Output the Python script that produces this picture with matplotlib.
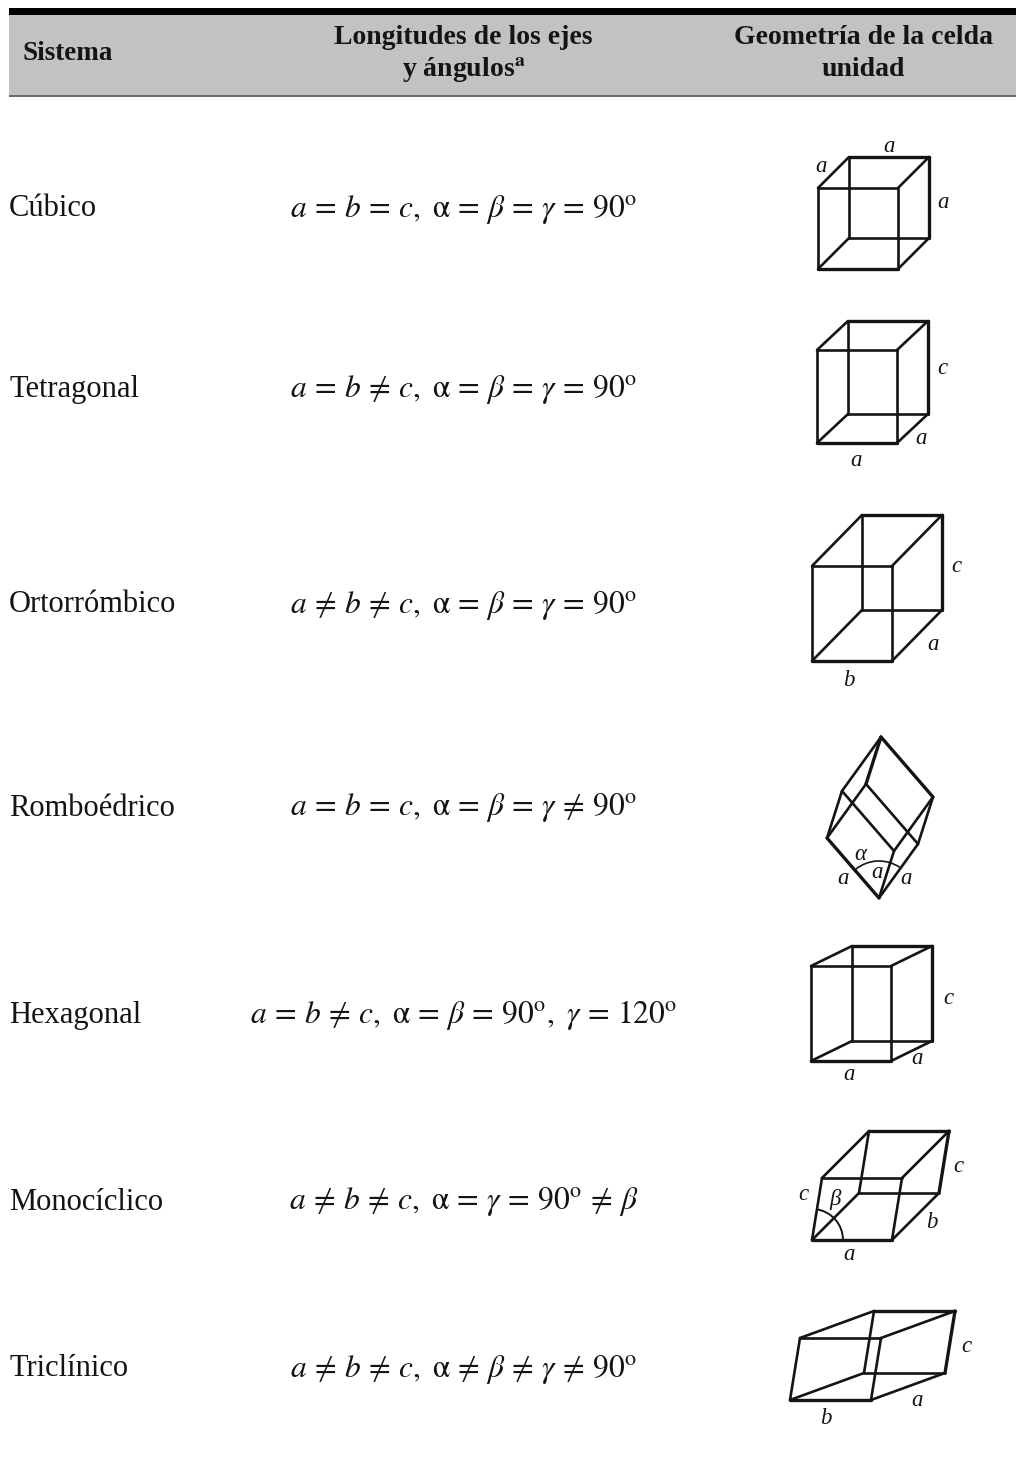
import numpy as np
import matplotlib
matplotlib.use('Agg')
import matplotlib.pyplot as plt
from matplotlib.patches import Arc

plt.rcParams['font.family'] = ['Liberation Serif', 'DejaVu Serif']
plt.rcParams['mathtext.fontset'] = 'stix'

# table content
sistemas = ['Cúbico', 'Tetragonal', 'Ortorrómbico', 'Romboédrico', 'Hexagonal', 'Monocíclico', 'Triclínico']
row_y = [207, 388, 603, 806, 1013, 1200, 1367]
formulas = [
    r'$a\,=\,b\,=\,c,\ \mathrm{\alpha}\,=\,\beta\,=\,\gamma\,=\,90^{\mathrm{o}}$',
    r'$a\,=\,b\,\neq\,c,\ \mathrm{\alpha}\,=\,\beta\,=\,\gamma\,=\,90^{\mathrm{o}}$',
    r'$a\,\neq\,b\,\neq\,c,\ \mathrm{\alpha}\,=\,\beta\,=\,\gamma\,=\,90^{\mathrm{o}}$',
    r'$a\,=\,b\,=\,c,\ \mathrm{\alpha}\,=\,\beta\,=\,\gamma\,\neq\,90^{\mathrm{o}}$',
    r'$a\,=\,b\,\neq\,c,\ \mathrm{\alpha}\,=\,\beta\,=\,90^{\mathrm{o}},\ \gamma\,=\,120^{\mathrm{o}}$',
    r'$a\,\neq\,b\,\neq\,c,\ \mathrm{\alpha}\,=\,\gamma\,=\,90^{\mathrm{o}}\,\neq\,\beta$',
    r'$a\,\neq\,b\,\neq\,c,\ \mathrm{\alpha}\,\neq\,\beta\,\neq\,\gamma\,\neq\,90^{\mathrm{o}}$',
]

# unit cells: one corner and the three edge vectors, in image pixels
cell_origin = [(818, 269), (817, 443), (812, 661), (879, 898), (811, 1061), (812, 1240), (790, 1400)]
cell_u = [(80, 0), (80, 0), (80, 0), (-52, -60), (80, 0), (80, 0), (81, 0)]
cell_v = [(31, -31), (31, -29), (50, -51), (39, -54), (41, -20), (47, -47), (74, -27)]
cell_w = [(0, -81), (0, -93), (0, -95), (15, -47), (0, -95), (10, -62), (10, -62)]

# edge labels of the cells
label_text = ['a', 'a', 'a',
              'c', 'a', 'a',
              'c', 'a', 'b',
              'α', 'a', 'a', 'a',
              'c', 'a', 'a',
              'c', 'c', 'β', 'b', 'a',
              'c', 'a', 'b']
label_x = [889, 821, 943,
           942, 921, 856,
           956, 933, 849,
           860, 843, 877, 906,
           948, 917, 849,
           958, 803, 835, 932, 849,
           966, 917, 826]
label_y = [146, 165, 201,
           367, 438, 459,
           565, 643, 680,
           853, 878, 872, 878,
           998, 1058, 1074,
           1166, 1193, 1198, 1222, 1253,
           1345, 1399, 1418]

INK = '#141414'


def draw_cell(ax, origin, u, v, w):
    o, u, v, w = np.array(origin), np.array(u), np.array(v), np.array(w)
    corners = [o, o + u, o + v, o + w, o + u + v, o + u + w, o + v + w, o + u + v + w]
    edges = [(0, 1), (0, 2), (0, 3), (1, 4), (1, 5), (2, 4), (2, 6), (3, 5), (3, 6), (4, 7), (5, 7), (6, 7)]
    for i, j in edges:
        lw = 2.4 if (i, j) in [(0, 1), (6, 7), (4, 7)] else 1.9
        ax.plot([corners[i][0], corners[j][0]], [corners[i][1], corners[j][1]],
                color=INK, lw=lw, solid_capstyle='round')


fig = plt.figure(figsize=(10.16, 14.62), dpi=100, facecolor='white')
ax = fig.add_axes([0, 0, 1, 1])
ax.set_xlim(0, 1016)
ax.set_ylim(1462, 0)
ax.axis('off')

# header band
ax.fill_between([9, 1016], 15, 95, color='#c2c2c2', lw=0)
ax.fill_between([9, 1016], 8, 15, color='black', lw=0)
ax.fill_between([9, 1016], 95, 97, color='#6a6a6a', lw=0)

ax.text(23, 53, 'Sistema', fontsize=19.5, fontweight='bold', va='center', ha='left', color=INK)
ax.text(463, 37, 'Longitudes de los ejes', fontsize=20, fontweight='bold', va='center', ha='center', color=INK)
ax.text(464, 69, r'y ángulos$^{\mathbf{a}}$', fontsize=20, fontweight='bold', va='center', ha='center', color=INK)
ax.text(863, 37, 'Geometría de la celda', fontsize=20, fontweight='bold', va='center', ha='center', color=INK)
ax.text(863, 69, 'unidad', fontsize=20, fontweight='bold', va='center', ha='center', color=INK)

for name, y, formula in zip(sistemas, row_y, formulas):
    ax.text(9, y + 2, name, fontsize=22, va='center', ha='left', color=INK)
    ax.text(464, y + 2, formula, fontsize=22.7, va='center', ha='center', color=INK)

for o, u, v, w in zip(cell_origin, cell_u, cell_v, cell_w):
    draw_cell(ax, o, u, v, w)

# angle marks on the rhombohedral and monoclinic cells
ax.add_patch(Arc((879, 898), 74, 74, theta1=231, theta2=304, color=INK, lw=1.2))
ax.add_patch(Arc((812, 1240), 62, 62, theta1=278, theta2=360, color=INK, lw=1.4))

for s, x, y in zip(label_text, label_x, label_y):
    ax.text(x, y + 1, s, fontsize=16.5, style='italic', va='center', ha='center', color=INK)

fig.savefig('out.png', dpi=100)
